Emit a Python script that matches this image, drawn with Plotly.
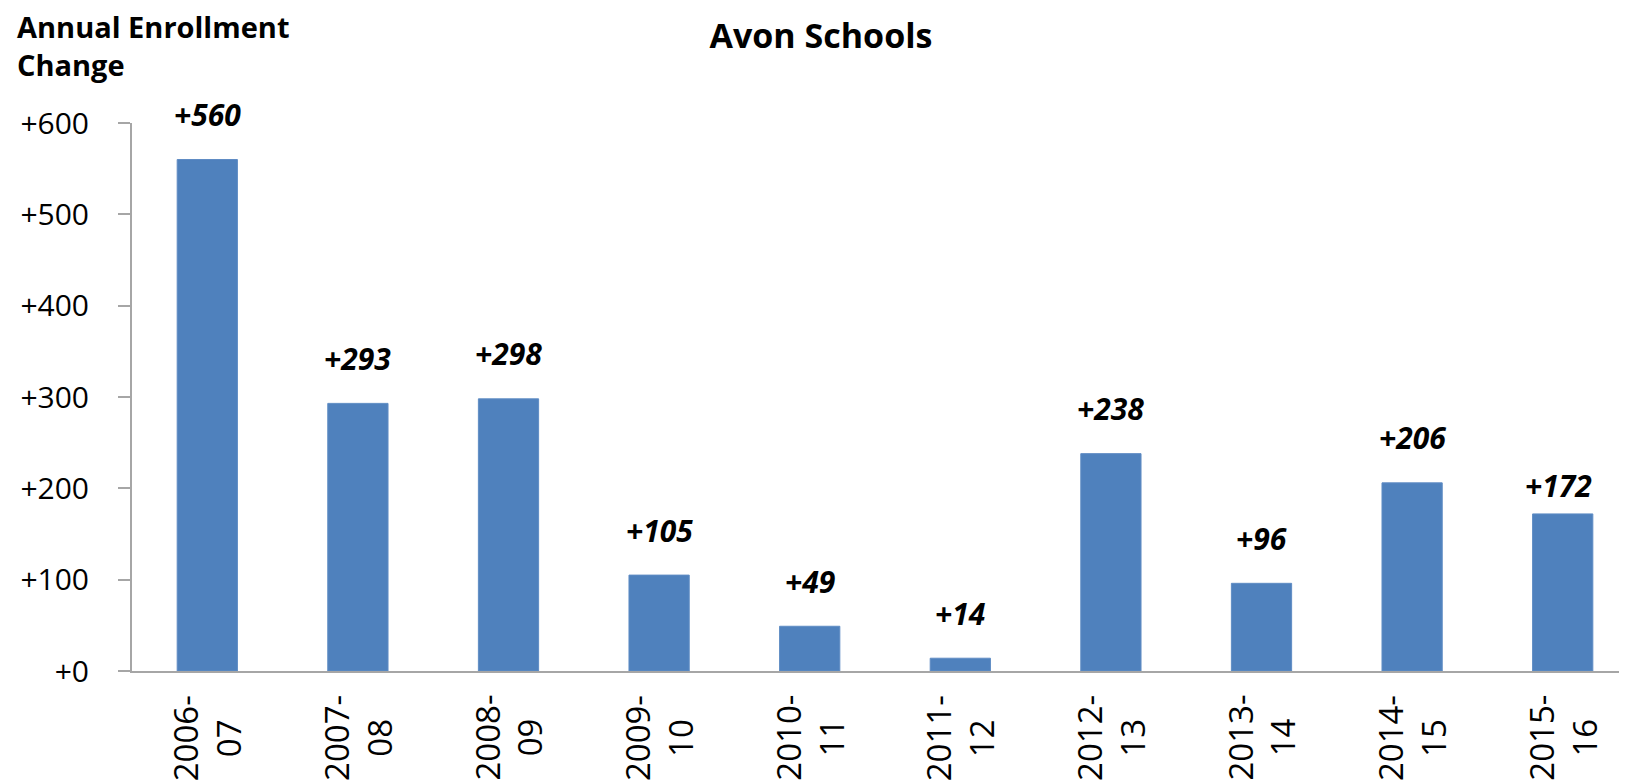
import plotly.graph_objects as go

categories = ["2006-<br>07", "2007-<br>08", "2008-<br>09", "2009-<br>10", "2010-<br>11",
              "2011-<br>12", "2012-<br>13", "2013-<br>14", "2014-<br>15", "2015-<br>16"]
changes = [560, 293, 298, 105, 49, 14, 238, 96, 206, 172]
ytick_vals = [0, 100, 200, 300, 400, 500, 600]
ytick_text = ["+0", "+100", "+200", "+300", "+400", "+500", "+600"]

FONT = "Open Sans"
BAR = "#4F81BD"
AXIS = "#A6A6A6"

x_idx = list(range(len(categories)))

fig = go.Figure()
fig.add_trace(go.Bar(
    x=x_idx, y=changes, width=0.4,
    marker=dict(color=BAR, line=dict(color="#5F8CC4", width=1)),
    hoverinfo="skip",
))

# data labels (last one sits lower / slightly left, as in the reference)
label_shift = {9: (-4, 28)}
for i, v in enumerate(changes):
    dx, dy = label_shift.get(i, (0, 45))
    fig.add_annotation(x=i, y=v, xref="x", yref="y", text=f"<b><i>+{v}</i></b>",
                       showarrow=False, yanchor="middle", xanchor="center",
                       xshift=dx, yshift=dy,
                       font=dict(family=FONT, size=30, color="black"))

# x category labels, rotated, centred lines
for i, c in enumerate(categories):
    fig.add_annotation(x=i, y=0, xref="x", yref="y", text=c, textangle=-90,
                       showarrow=False, yanchor="top", xanchor="center", yshift=-22,
                       align="center",
                       font=dict(family=FONT, size=33, color="black"))

# y axis title at top-left
fig.add_annotation(x=-0.0778, y=1.215, xref="paper", yref="paper",
                   text="<b>Annual Enrollment<br>Change</b>", showarrow=False,
                   xanchor="left", yanchor="top", align="left",
                   font=dict(family=FONT, size=29, color="black"))

fig.update_layout(
    width=1627, height=783,
    margin=dict(l=124, r=0, t=115, b=120),
    paper_bgcolor="white", plot_bgcolor="white",
    showlegend=False,
    title=dict(text="<b>Avon Schools</b>", x=813 / 1627, xref="container", xanchor="center",
               y=1 - 28 / 783, yref="container", yanchor="middle",
               font=dict(family=FONT, size=34, color="black")),
    xaxis=dict(range=[-0.5, 9.48], showticklabels=False, ticks="",
               showline=True, linecolor=AXIS, linewidth=2, showgrid=False, zeroline=False,
               fixedrange=True),
    yaxis=dict(range=[0, 600], tickvals=ytick_vals, ticktext=ytick_text,
               ticks="outside", ticklen=12, tickcolor=AXIS, tickwidth=2,
               ticklabelstandoff=23,
               showline=True, linecolor=AXIS, linewidth=2, showgrid=False, zeroline=False,
               tickfont=dict(family=FONT, size=30, color="black"), fixedrange=True),
)

fig.write_html("out.html")
